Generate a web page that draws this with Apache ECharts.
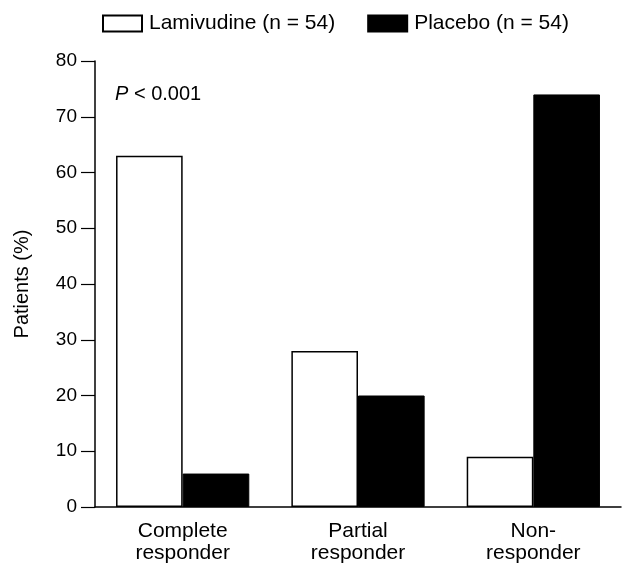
<!DOCTYPE html>
<html>
<head>
<meta charset="utf-8">
<script src="https://cdn.jsdelivr.net/npm/echarts@6/dist/echarts.min.js"></script>
<style>html,body{margin:0;padding:0;background:#fff;}#c{width:623px;height:565px;}</style>
</head>
<body>
<div id="c"></div>
<script>
const categories = ['Complete\nresponder', 'Partial\nresponder', 'Non-\nresponder'];
const seriesNames = ['Lamivudine (n = 54)', 'Placebo (n = 54)'];
const lamivudine = [63, 28, 9];
const placebo = [6, 20, 74];
const yTicks = [0, 10, 20, 30, 40, 50, 60, 70, 80];
const annotation = 'P < 0.001';

const FONT = '"Liberation Sans", Arial, Helvetica, sans-serif';
const chart = echarts.init(document.getElementById('c'));
chart.setOption({
  animation: false,
  backgroundColor: '#fff',
  textStyle: { fontFamily: FONT, color: '#000' },
  legend: {
    left: 102, top: 13, padding: 0,
    itemWidth: 39, itemHeight: 16, itemGap: 32,
    icon: 'rect',
    textStyle: { fontSize: 21, color: '#000', fontFamily: FONT, padding: [0, 0, 0, 2] },
    data: seriesNames
  },
  grid: { left: 95, right: 2, top: 61, bottom: 58, containLabel: false },
  xAxis: {
    type: 'category',
    data: categories,
    axisLine: { lineStyle: { color: '#000', width: 1.5 } },
    axisTick: { show: false },
    axisLabel: { fontSize: 21, color: '#000', fontFamily: FONT, margin: 13, lineHeight: 22 }
  },
  yAxis: {
    type: 'value',
    min: yTicks[0], max: yTicks[yTicks.length - 1], interval: 10,
    name: 'Patients (%)',
    nameLocation: 'middle',
    nameGap: 63,
    nameRotate: 90,
    nameTextStyle: { fontSize: 20, color: '#000', fontFamily: FONT },
    axisLine: { show: true, lineStyle: { color: '#000', width: 1.5 } },
    axisTick: { show: true, length: 14, lineStyle: { color: '#000', width: 1.2 } },
    axisLabel: { fontSize: 19, color: '#000', fontFamily: FONT, margin: 18 },
    splitLine: { show: false }
  },
  series: [
    {
      name: seriesNames[0], type: 'bar', data: lamivudine,
      barGap: '0%', barCategoryGap: '24%',
      itemStyle: { color: '#fff', borderColor: '#000', borderWidth: 1.5 }
    },
    {
      name: seriesNames[1], type: 'bar', data: placebo,
      barGap: '0%', barCategoryGap: '24%',
      itemStyle: { color: '#000', borderColor: '#000', borderWidth: 1 }
    }
  ],
  graphic: [{
    type: 'text', left: 115, top: 84,
    style: {
      text: '{i|P} < 0.001',
      rich: { i: { fontStyle: 'italic', fontSize: 20, fontFamily: FONT, fill: '#000' } },
      fontSize: 20, fontFamily: FONT, fill: '#000'
    }
  }]
});
</script>
</body>
</html>
